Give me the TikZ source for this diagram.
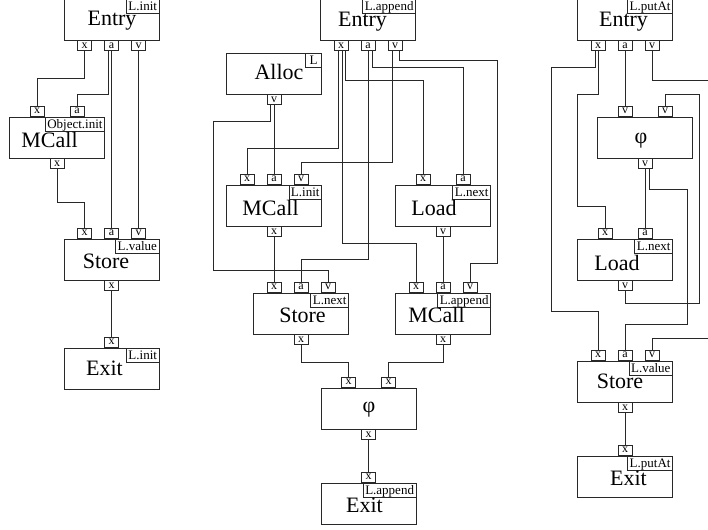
\documentclass[tikz,border=0pt]{standalone}
\usepackage{fontspec}
\setmainfont{Liberation Serif}
\usetikzlibrary{positioning}
\definecolor{wirec}{RGB}{40,40,40}

\begin{document}
\begin{tikzpicture}[x=1pt,y=-1pt,
    blk/.style={draw=wirec,line width=0.9pt,minimum width=95pt,minimum height=41pt,inner sep=0pt},
    port/.style={draw=wirec,line width=0.9pt,minimum width=14pt,minimum height=10pt,inner sep=0pt,font=\fontsize{12}{12}\selectfont},
    tag/.style={draw=wirec,line width=0.9pt,anchor=north east,inner xsep=2pt,inner ysep=0.5pt,minimum width=16pt,text height=11pt,text depth=2pt,font=\fontsize{13}{13}\selectfont},
    lbl/.style={anchor=base,inner sep=0pt,font=\fontsize{22}{22}\selectfont},
    wire/.style={draw=wirec,line width=0.9pt}]
  \useasboundingbox (0,0) rectangle (708,529);
  \clip (0,0) rectangle (708,529);

  % graph of L.init
  \node[blk] (en1) at (111.5,19.5) {};
  \node[tag] (en1t) at (en1.north east) {L.init};
  \node[lbl] (en1l) at (112,26) {Entry};
  \node[port,below=0pt of en1.south,xshift=-27pt] (en1x) {x};
  \node[port,below=0pt of en1.south] (en1a) {a};
  \node[port,below=0pt of en1.south,xshift=27pt] (en1v) {v};

  \node[blk] (mc1) at (57,137.5) {};
  \node[tag] (mc1t) at (mc1.north east) {Object.init};
  \node[lbl] (mc1l) at (49.5,148) {MCall};
  \node[port,above=0pt of mc1.north,xshift=-20pt] (mc1x) {x};
  \node[port,above=0pt of mc1.north,xshift=20pt] (mc1a) {a};
  \node[port,below=0pt of mc1.south] (mc1o) {x};

  \node[blk] (st1) at (111.5,259.5) {};
  \node[tag] (st1t) at (st1.north east) {L.value};
  \node[lbl] (st1l) at (106,268) {Store};
  \node[port,above=0pt of st1.north,xshift=-27pt] (st1x) {x};
  \node[port,above=0pt of st1.north] (st1a) {a};
  \node[port,above=0pt of st1.north,xshift=27pt] (st1v) {v};
  \node[port,below=0pt of st1.south] (st1o) {x};

  \node[blk] (ex1) at (111.5,368.5) {};
  \node[tag] (ex1t) at (ex1.north east) {L.init};
  \node[lbl] (ex1l) at (104.5,375) {Exit};
  \node[port,above=0pt of ex1.north] (ex1x) {x};

  \draw[wire] (en1x.south) |- (mc1x.north |- 0,78) -- (mc1x.north);
  \draw[wire] ([xshift=-3pt]en1a.south) |- (mc1a.north |- 0,94) -- (mc1a.north);
  \draw[wire] (en1a.south) -- (st1a.north);
  \draw[wire] (en1v.south) -- (st1v.north);
  \draw[wire] (mc1o.south) |- (st1x.north |- 0,202) -- (st1x.north);
  \draw[wire] (st1o.south) -- (ex1x.north);

  % graph of L.append
  \node[blk] (en2) at (368,19.5) {};
  \node[tag] (en2t) at (en2.north east) {L.append};
  \node[lbl] (en2l) at (362.5,27) {Entry};
  \node[port,below=0pt of en2.south,xshift=-27pt] (en2x) {x};
  \node[port,below=0pt of en2.south] (en2a) {a};
  \node[port,below=0pt of en2.south,xshift=27pt] (en2v) {v};

  \node[blk] (al2) at (274,73.5) {};
  \node[tag] (al2t) at (al2.north east) {L};
  \node[lbl] (al2l) at (279,80) {Alloc};
  \node[port,below=0pt of al2.south] (al2v) {v};

  \node[blk] (mc2) at (274,205.5) {};
  \node[tag] (mc2t) at (mc2.north east) {L.init};
  \node[lbl] (mc2l) at (270.5,215) {MCall};
  \node[port,above=0pt of mc2.north,xshift=-27pt] (mc2x) {x};
  \node[port,above=0pt of mc2.north] (mc2a) {a};
  \node[port,above=0pt of mc2.north,xshift=27pt] (mc2v) {v};
  \node[port,below=0pt of mc2.south] (mc2o) {x};

  \node[blk] (ld2) at (443,205.5) {};
  \node[tag] (ld2t) at (ld2.north east) {L.next};
  \node[lbl] (ld2l) at (434,215) {Load};
  \node[port,above=0pt of ld2.north,xshift=-20pt] (ld2x) {x};
  \node[port,above=0pt of ld2.north,xshift=20pt] (ld2a) {a};
  \node[port,below=0pt of ld2.south] (ld2o) {v};

  \node[blk] (st2) at (301,313.5) {};
  \node[tag] (st2t) at (st2.north east) {L.next};
  \node[lbl] (st2l) at (302.5,322) {Store};
  \node[port,above=0pt of st2.north,xshift=-27pt] (st2x) {x};
  \node[port,above=0pt of st2.north] (st2a) {a};
  \node[port,above=0pt of st2.north,xshift=27pt] (st2v) {v};
  \node[port,below=0pt of st2.south] (st2o) {x};

  \node[blk] (mb2) at (443,313.5) {};
  \node[tag] (mb2t) at (mb2.north east) {L.append};
  \node[lbl] (mb2l) at (436.5,322) {MCall};
  \node[port,above=0pt of mb2.north,xshift=-27pt] (mb2x) {x};
  \node[port,above=0pt of mb2.north] (mb2a) {a};
  \node[port,above=0pt of mb2.north,xshift=27pt] (mb2v) {v};
  \node[port,below=0pt of mb2.south] (mb2o) {x};

  \node[blk] (ph2) at (368.5,408.5) {};
  \node[font=\fontsize{22}{22}\selectfont,inner sep=0pt] (ph2l) at (369,410) {φ};
  \node[port,above=0pt of ph2.north,xshift=-20pt] (ph2xl) {x};
  \node[port,above=0pt of ph2.north,xshift=20pt] (ph2xr) {x};
  \node[port,below=0pt of ph2.south] (ph2o) {x};

  \node[blk] (ex2) at (368.5,503.5) {};
  \node[tag] (ex2t) at (ex2.north east) {L.append};
  \node[lbl] (ex2l) at (364.5,512) {Exit};
  \node[port,above=0pt of ex2.north] (ex2x) {x};

  \draw[wire] ([xshift=-4pt]al2v.south) |- (213,121) |- (st2v.north |- 0,270) -- (st2v.north);
  \draw[wire] (al2v.south) -- (mc2a.north);
  \draw[wire] ([xshift=-3pt]en2x.south) |- (mc2x.north |- 0,148) -- (mc2x.north);
  \draw[wire] ([xshift=1pt]en2x.south) |- (mb2x.north |- 0,243) -- (mb2x.north);
  \draw[wire] ([xshift=4pt]en2x.south) |- (ld2x.north |- 0,80) -- (ld2x.north);
  \draw[wire] (en2a.south) |- (st2a.north |- 0,259) -- (st2a.north);
  \draw[wire] ([xshift=4pt]en2a.south) |- (ld2a.north |- 0,67) -- (ld2a.north);
  \draw[wire] ([xshift=-3pt]en2v.south) |- (mc2v.north |- 0,162) -- (mc2v.north);
  \draw[wire] ([xshift=4pt]en2v.south) |- (497,60) |- (mb2v.north |- 0,263) -- (mb2v.north);
  \draw[wire] (mc2o.south) -- (st2x.north);
  \draw[wire] (ld2o.south) -- (mb2a.north);
  \draw[wire] (st2o.south) |- (ph2xl.north |- 0,362) -- (ph2xl.north);
  \draw[wire] (mb2o.south) |- (ph2xr.north |- 0,362) -- (ph2xr.north);
  \draw[wire] (ph2o.south) -- (ex2x.north);

  % graph of L.putAt
  \node[blk] (en3) at (625,19.5) {};
  \node[tag] (en3t) at (en3.north east) {L.putAt};
  \node[lbl] (en3l) at (623.5,27) {Entry};
  \node[port,below=0pt of en3.south,xshift=-27pt] (en3x) {x};
  \node[port,below=0pt of en3.south] (en3a) {a};
  \node[port,below=0pt of en3.south,xshift=27pt] (en3v) {v};

  \node[blk] (ph3) at (645,137.5) {};
  \node[font=\fontsize{22}{22}\selectfont,inner sep=0pt] (ph3l) at (641,140.5) {φ};
  \node[port,above=0pt of ph3.north,xshift=-20pt] (ph3vl) {v};
  \node[port,above=0pt of ph3.north,xshift=20pt] (ph3vr) {v};
  \node[port,below=0pt of ph3.south] (ph3o) {v};

  \node[blk] (ld3) at (625,259.5) {};
  \node[tag] (ld3t) at (ld3.north east) {L.next};
  \node[lbl] (ld3l) at (617,270) {Load};
  \node[port,above=0pt of ld3.north,xshift=-20pt] (ld3x) {x};
  \node[port,above=0pt of ld3.north,xshift=20pt] (ld3a) {a};
  \node[port,below=0pt of ld3.south] (ld3o) {v};

  \node[blk] (st3) at (625,381.5) {};
  \node[tag] (st3t) at (st3.north east) {L.value};
  \node[lbl] (st3l) at (620,388) {Store};
  \node[port,above=0pt of st3.north,xshift=-27pt] (st3x) {x};
  \node[port,above=0pt of st3.north] (st3a) {a};
  \node[port,above=0pt of st3.north,xshift=27pt] (st3v) {v};
  \node[port,below=0pt of st3.south] (st3o) {x};

  \node[blk] (ex3) at (625,476.5) {};
  \node[tag] (ex3t) at (ex3.north east) {L.putAt};
  \node[lbl] (ex3l) at (628.5,485) {Exit};
  \node[port,above=0pt of ex3.north] (ex3x) {x};

  \draw[wire] ([xshift=-3pt]en3x.south) |- (551,67) |- (st3x.north |- 0,311) -- (st3x.north);
  \draw[wire] (en3x.south) |- (577,94) |- (ld3x.north |- 0,206) -- (ld3x.north);
  \draw[wire] (en3a.south) -- (ph3vl.north);
  \draw[wire] (en3v.south) |- (715,80) |- (st3v.north |- 0,338) -- (st3v.north);
  \draw[wire] (ld3o.south) |- (699,303) |- (ph3vr.north |- 0,94) -- (ph3vr.north);
  \draw[wire] (ph3o.south) -- (ld3a.north);
  \draw[wire] ([xshift=4pt]ph3o.south) |- (687,189) |- (st3a.north |- 0,324) -- (st3a.north);
  \draw[wire] (st3o.south) -- (ex3x.north);
\end{tikzpicture}
\end{document}
